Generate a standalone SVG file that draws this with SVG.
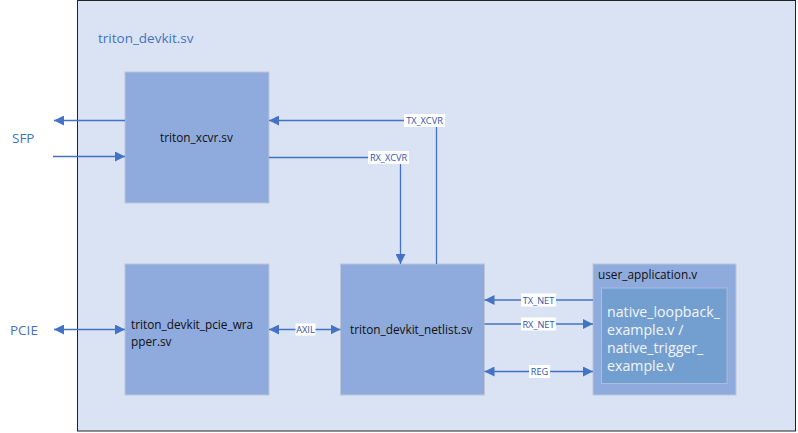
<svg xmlns="http://www.w3.org/2000/svg" width="798" height="433" viewBox="0 0 798 433">
<defs>
<marker id="arr" viewBox="0 0 10 10" refX="10" refY="5" markerWidth="10" markerHeight="10" markerUnits="userSpaceOnUse" orient="auto-start-reverse">
<path d="M0,0 L10,5 L0,10 z" fill="#4472C4"/>
</marker>
<style>
.blk{fill:#8FAADC;stroke:#BCC6D6;stroke-width:1}
.t{font-family:"Open Sans","Noto Sans",sans-serif;font-size:11.8px;fill:#111}
.ln{stroke:#4472C4;stroke-width:1.3;fill:none}
.lbl{font-family:"Open Sans","Noto Sans",sans-serif;font-size:9.2px;fill:#3355AA;text-anchor:middle}
.lb{fill:#fff}
.ext{font-family:"Open Sans","Noto Sans",sans-serif;font-size:13.5px;fill:#4472C4}
</style>
</defs>
<rect width="798" height="433" fill="#fff"/>
<g id="top">
<rect x="77.5" y="0.5" width="718" height="430.5" fill="#DAE3F3" stroke="#222" stroke-width="1"/>
<text x="98" y="43" class="ext" font-size="15">triton_devkit.sv</text>
</g>
<g id="sfp"><text x="12" y="143" class="ext">SFP</text></g>
<g id="pcie"><text x="10" y="334.5" class="ext">PCIE</text></g>
<g id="xcvr">
<rect x="125" y="72" width="144" height="131" class="blk"/>
<text x="160" y="142" class="t">triton_xcvr.sv</text>
</g>
<g id="pcie_wrapper">
<rect x="125" y="264" width="144" height="131" class="blk"/>
<text x="131" y="329" class="t">triton_devkit_pcie_wra</text>
<text x="131" y="346" class="t">pper.sv</text>
</g>
<g id="netlist">
<rect x="340.5" y="264" width="144" height="131" class="blk"/>
<text x="350" y="334" class="t">triton_devkit_netlist.sv</text>
</g>
<g id="user_app">
<rect x="593" y="264" width="143" height="131" class="blk"/>
<text x="598" y="278.5" class="t">user_application.v</text>
<rect x="601.5" y="288" width="125.5" height="95.5" fill="#729FCF" stroke="#A9BEDD" stroke-width="1"/>
<g font-family="'Open Sans','Noto Sans',sans-serif" font-size="14.2" fill="#F2F5FA">
<text x="607" y="316.5">native_loopback_</text>
<text x="607" y="334.5">example.v /</text>
<text x="607" y="353">native_trigger_</text>
<text x="607" y="371">example.v</text>
</g>
</g>
<g id="connectors">
<line x1="125" y1="120.5" x2="54" y2="120.5" class="ln" marker-end="url(#arr)"/>
<line x1="53" y1="156.5" x2="125" y2="156.5" class="ln" marker-end="url(#arr)"/>
<polyline points="436.5,264 436.5,120.5 269,120.5" class="ln" marker-end="url(#arr)"/>
<polyline points="269,157.5 400.5,157.5 400.5,264" class="ln" marker-end="url(#arr)"/>
<line x1="54" y1="329.5" x2="125" y2="329.5" class="ln" marker-start="url(#arr)" marker-end="url(#arr)"/>
<line x1="269" y1="329.5" x2="340.5" y2="329.5" class="ln" marker-start="url(#arr)" marker-end="url(#arr)"/>
<line x1="593" y1="300" x2="484.5" y2="300" class="ln" marker-end="url(#arr)"/>
<line x1="484.5" y1="324" x2="593" y2="324" class="ln" marker-end="url(#arr)"/>
<line x1="484.5" y1="371.5" x2="593" y2="371.5" class="ln" marker-start="url(#arr)" marker-end="url(#arr)"/>
<rect x="404" y="114" width="41" height="13" class="lb"/>
<text x="424.5" y="124" class="lbl">TX_XCVR</text>
<rect x="368" y="151" width="41" height="13" class="lb"/>
<text x="388.5" y="161" class="lbl">RX_XCVR</text>
<rect x="295.5" y="323.5" width="20" height="12" class="lb"/>
<text x="305.5" y="333" class="lbl">AXIL</text>
<rect x="521" y="293.5" width="35" height="13" class="lb"/>
<text x="538.5" y="303.5" class="lbl">TX_NET</text>
<rect x="521" y="317.5" width="35" height="13" class="lb"/>
<text x="538.5" y="327.5" class="lbl">RX_NET</text>
<rect x="529" y="365" width="21" height="13" class="lb"/>
<text x="539.5" y="375" class="lbl">REG</text>
</g>
</svg>
